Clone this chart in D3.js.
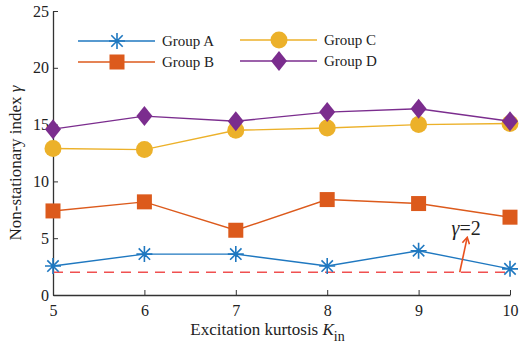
<!DOCTYPE html>
<html>
<head>
<meta charset="utf-8">
<script src="https://cdn.jsdelivr.net/npm/d3@7"></script>
<style>
  body { margin: 0; background: #fff; }
  text { font-family: "Liberation Serif", "Times New Roman", serif; fill: #222; }
</style>
</head>
<body>
<div id="chart"></div>
<script>
// kurtosis values on the x axis
var kurtosis = [5, 6, 7, 8, 9, 10];
var groupA = [2.55, 3.6, 3.6, 2.55, 3.9, 2.3];
var groupB = [7.4, 8.2, 5.7, 8.4, 8.05, 6.85];
var groupC = [12.9, 12.8, 14.5, 14.7, 15.0, 15.1];
var groupD = [14.6, 15.75, 15.3, 16.1, 16.4, 15.3];
var seriesNames = ["Group A", "Group B", "Group C", "Group D"];
var yTicks = [0, 5, 10, 15, 20, 25];
var threshold = 2;

var margin = {top: 11, right: 9, bottom: 56, left: 53},
    width = 519 - margin.left - margin.right,
    height = 351 - margin.top - margin.bottom;

var x = d3.scaleLinear().domain([5, 10]).range([0, width]);
var y = d3.scaleLinear().domain([0, 25]).range([height, 0]);

var svg = d3.select("#chart").append("svg")
    .attr("width", 519)
    .attr("height", 351)
  .append("g")
    .attr("transform", "translate(" + margin.left + "," + margin.top + ")");

// axes, ticks point inward
var xAxis = svg.append("g")
    .attr("transform", "translate(0," + height + ")")
    .call(d3.axisBottom(x).tickValues(kurtosis).tickFormat(d3.format("d"))
      .tickSize(-5).tickSizeOuter(0).tickPadding(10));
var yAxis = svg.append("g")
    .call(d3.axisLeft(y).tickValues(yTicks).tickFormat(d3.format("d"))
      .tickSize(-5).tickSizeOuter(0).tickPadding(4));
[xAxis, yAxis].forEach(function(ax) {
  ax.select(".domain").attr("stroke", "#333").attr("stroke-width", 1.3);
  ax.selectAll(".tick line").attr("stroke", "#333");
  ax.selectAll(".tick text").style("font-size", "16px").attr("fill", "#222");
});

// dashed threshold line
svg.append("line")
    .attr("x1", x(5)).attr("x2", x(10))
    .attr("y1", y(threshold)).attr("y2", y(threshold))
    .attr("stroke", "#f05050")
    .attr("stroke-width", 1.4)
    .attr("stroke-dasharray", "10,7");

var series = [
  {name: seriesNames[0], values: groupA, color: "#1f78c0", shape: "star"},
  {name: seriesNames[1], values: groupB, color: "#dc5a1c", shape: "square"},
  {name: seriesNames[2], values: groupC, color: "#ecb12a", shape: "circle"},
  {name: seriesNames[3], values: groupD, color: "#7b2d8e", shape: "diamond"}
];

function drawMarker(g, shape, color) {
  if (shape === "star") {
    g.append("path")
      .attr("d", "M-8,0H8M0,-8V8M-5.7,-5.7L5.7,5.7M-5.7,5.7L5.7,-5.7")
      .attr("stroke", color).attr("stroke-width", 1.6).attr("fill", "none");
  } else if (shape === "square") {
    g.append("rect").attr("x", -7.5).attr("y", -7.5).attr("width", 15).attr("height", 15).attr("fill", color);
  } else if (shape === "circle") {
    g.append("circle").attr("r", 8.5).attr("fill", color);
  } else {
    g.append("path").attr("d", "M0,-10L8,0L0,10L-8,0Z").attr("fill", color);
  }
}

var line = d3.line()
    .x(function(d, i) { return x(kurtosis[i]); })
    .y(function(d) { return y(d); });

series.forEach(function(s) {
  svg.append("path")
    .datum(s.values)
    .attr("d", line)
    .attr("fill", "none")
    .attr("stroke", s.color)
    .attr("stroke-width", 1.4);
  s.values.forEach(function(v, i) {
    var g = svg.append("g").attr("transform", "translate(" + x(kurtosis[i]) + "," + y(v) + ")");
    drawMarker(g, s.shape, s.color);
  });
});

// legend
var legendPos = [[25, 30], [25, 51], [187, 29], [187, 50]];
series.forEach(function(s, i) {
  var lg = svg.append("g").attr("transform", "translate(" + legendPos[i][0] + "," + legendPos[i][1] + ")");
  lg.append("line").attr("x1", 0).attr("x2", 77).attr("stroke", s.color).attr("stroke-width", 1.4);
  var m = lg.append("g").attr("transform", "translate(39,0)");
  drawMarker(m, s.shape, s.color);
  lg.append("text").attr("x", 84).attr("y", 5).style("font-size", "15px").text(s.name);
});

// annotation
svg.append("defs").append("marker")
    .attr("id", "arrowhead")
    .attr("viewBox", "0 0 10 10")
    .attr("refX", 7).attr("refY", 5)
    .attr("markerWidth", 9).attr("markerHeight", 9)
    .attr("markerUnits", "userSpaceOnUse")
    .attr("orient", "auto")
  .append("path")
    .attr("d", "M1,1L8,5L1,9")
    .attr("fill", "none").attr("stroke", "#e8501e").attr("stroke-width", 1.8);
svg.append("line")
    .attr("x1", x(9.45)).attr("y1", y(threshold))
    .attr("x2", x(9.53)).attr("y2", y(5))
    .attr("stroke", "#e8501e").attr("stroke-width", 1.6)
    .attr("marker-end", "url(#arrowhead)");
svg.append("text")
    .attr("x", x(9.36)).attr("y", y(5.3))
    .style("font-size", "20px")
    .html('<tspan font-style="italic">γ</tspan>=2');

// axis titles
svg.append("text")
    .attr("x", width / 2 - 14).attr("y", height + 40)
    .attr("text-anchor", "middle")
    .style("font-size", "17px")
    .html('Excitation kurtosis <tspan font-style="italic">K</tspan><tspan dy="6" font-size="14px">in</tspan>');
svg.append("text")
    .attr("transform", "rotate(-90)")
    .attr("x", -152).attr("y", -32)
    .attr("text-anchor", "middle")
    .style("font-size", "17px")
    .html('Non-stationary index <tspan font-style="italic">γ</tspan>');
</script>
</body>
</html>
